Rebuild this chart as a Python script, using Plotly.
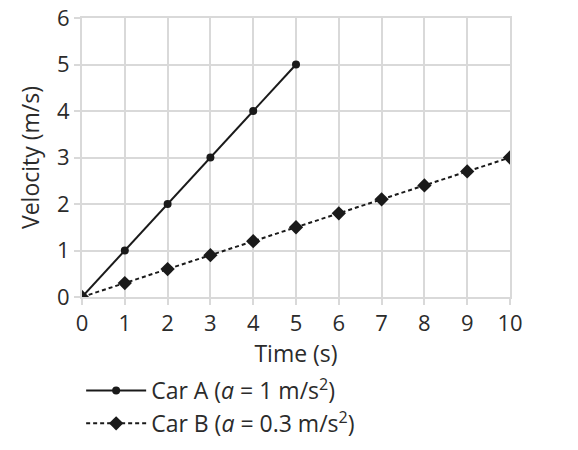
import plotly.graph_objects as go

time_a = [0, 1, 2, 3, 4, 5]
vel_a = [0, 1, 2, 3, 4, 5]
time_b = [0, 1, 2, 3, 4, 5, 6, 7, 8, 9, 10]
vel_b = [0, 0.3, 0.6, 0.9, 1.2, 1.5, 1.8, 2.1, 2.4, 2.7, 3.0]

name_a = 'Car A (<i>a</i> = 1 m/s<sup>2</sup>)'
name_b = 'Car B (<i>a</i> = 0.3 m/s<sup>2</sup>)'

ink = '#1a1a1a'
grid = '#d9d9d9'
font = 'Open Sans, Noto Sans, sans-serif'
text_col = '#2b2b2b'

fig = go.Figure()
# Car A
fig.add_trace(go.Scatter(x=time_a, y=vel_a, name=name_a, mode='lines+markers', legendgroup='a',
                         line=dict(color=ink, width=2),
                         marker=dict(symbol='circle', size=8, color=ink)))
# Car B
fig.add_trace(go.Scatter(x=time_b, y=vel_b, name=name_b, mode='lines+markers', legendgroup='b',
                         line=dict(color=ink, width=2, dash='4px,3px'),
                         marker=dict(symbol='diamond', size=11, color=ink)))

# grid frame: gridlines + mirrored gray axis lines so the top edge shows too
axis_style = dict(showgrid=True, gridcolor=grid, gridwidth=2, zeroline=False,
                  showline=True, linecolor=grid, linewidth=2, mirror=True,
                  ticks='outside', tickcolor=grid, tickwidth=2, ticklen=6, automargin=False,
                  ticklabeloverflow='allow',
                  tickfont=dict(family=font, size=22, color=text_col),
                  title_font=dict(family=font, size=23, color=text_col))

fig.update_xaxes(range=[0, 10], dtick=1, title_text='Time (s)', title_standoff=2, **axis_style)
fig.update_yaxes(range=[0, 6], dtick=1, title_text='Velocity (m/s)', title_standoff=11, **axis_style)

fig.update_layout(
    width=578, height=450,
    margin=dict(l=82, r=68, t=18, b=153, autoexpand=False),
    plot_bgcolor='white', paper_bgcolor='white',
    showlegend=True,
    legend=dict(x=-0.002, y=-0.258, xanchor='left', yanchor='top', orientation='v',
                itemwidth=60, tracegroupgap=0, traceorder='grouped',
                font=dict(family=font, size=23, color=text_col)),
)

# drop the default 8px page margin so the figure fills the window
fig.write_html("out.html", config={'displayModeBar': False},
               post_script="document.body.style.margin='0';")
